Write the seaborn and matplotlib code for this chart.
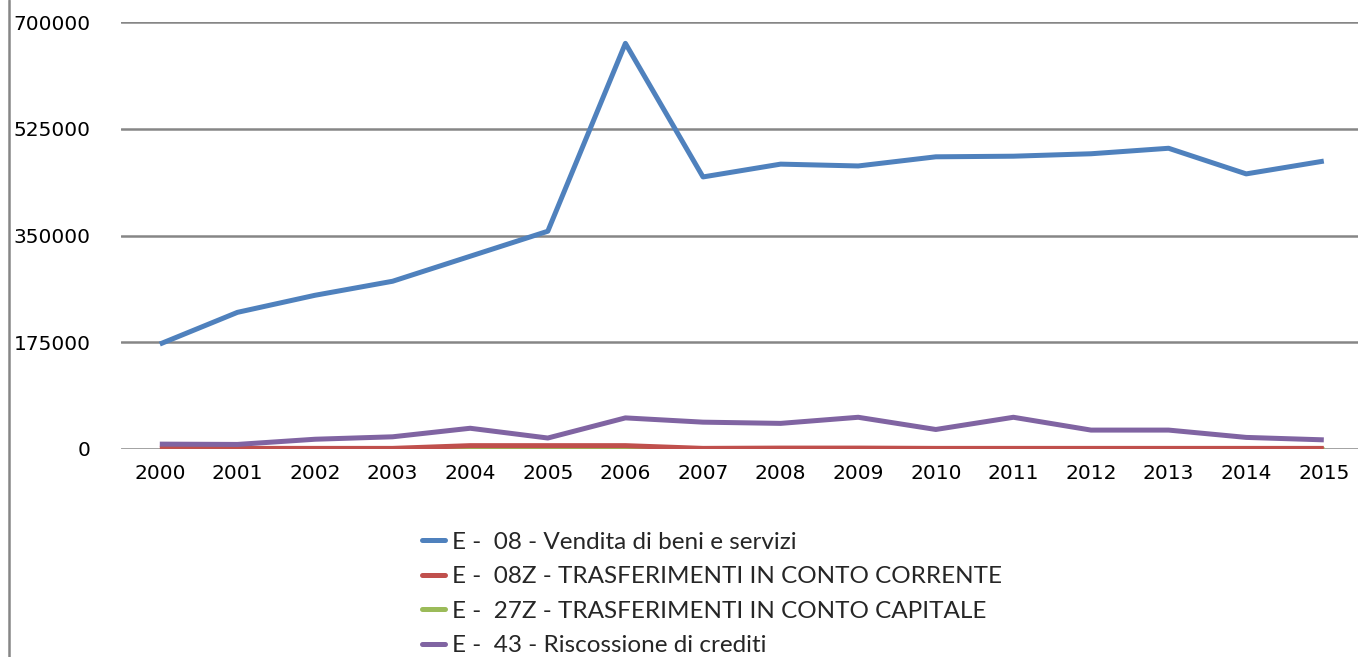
import numpy as np
import pandas as pd
import matplotlib.pyplot as plt
import seaborn as sns
from matplotlib.lines import Line2D

# --- data ---
years = list(range(2000, 2016))
vendita = [172000, 224000, 252000, 275000, 316000, 357000, 665000, 446000,
           467000, 464000, 479000, 480000, 484000, 493000, 451000, 472000]
trasf_corrente = [1000, 1000, 1000, 1000, 5500, 5500, 5500, 1000,
                  1500, 1500, 1000, 1000, 1000, 1000, 1000, 1000]
trasf_capitale = [0, 0, 0, 0, 0, 0, 0, 0, 0, 0, 0, 0, 0, 0, 0, 0]
riscossione = [8000, 7500, 16000, 20000, 34000, 18000, 51000, 44000,
               42000, 52000, 32000, 52000, 31000, 31000, 19000, 15000]

labels = ["E -  08 - Vendita di beni e servizi",
          "E -  08Z - TRASFERIMENTI IN CONTO CORRENTE",
          "E -  27Z - TRASFERIMENTI IN CONTO CAPITALE",
          "E -  43 - Riscossione di crediti"]
colors = ["#4F81BD", "#C0504D", "#9BBB59", "#8064A2"]

df = pd.DataFrame({"Anno": years, labels[0]: vendita, labels[1]: trasf_corrente,
                   labels[2]: trasf_capitale, labels[3]: riscossione})
df_long = df.melt(id_vars="Anno", var_name="Voce", value_name="Valore")

sns.set_theme(style="white")
plt.rcParams['font.family'] = ['DejaVu Sans']

W, H = 1358, 657
fig = plt.figure(figsize=(W / 100, H / 100), dpi=100)
ax = fig.add_axes([121 / W, (H - 449) / H, (W - 121) / W, (449 - 22) / H])

# draw in order so that blue/purple stay on top like the original
draw_order = [labels[2], labels[1], labels[0], labels[3]]
sns.lineplot(data=df_long, x="Anno", y="Valore", hue="Voce", hue_order=draw_order,
             palette=dict(zip(labels, colors)), linewidth=3.6, ax=ax, legend=False,
             zorder=3)
for ln in ax.lines:
    ln.set_solid_capstyle('butt')

ax.set_xlim(1999.5, 1999.5 + (W - 121) / 77.6)
ax.set_ylim(0, 700000)
ax.set_yticks([0, 175000, 350000, 525000, 700000])
ax.set_yticklabels(["0", "175000", "350000", "525000", "700000"])
ax.set_xticks(years)
ax.set_xticklabels([str(y) for y in years])
ax.tick_params(axis='both', length=0, labelsize=14.5, colors='black')
ax.tick_params(axis='y', pad=22)
ax.tick_params(axis='x', pad=11)
ax.set_xlabel("")
ax.set_ylabel("")
ax.grid(axis='y', color='#868686', linewidth=1.8)
ax.set_axisbelow(True)
for s in ax.spines.values():
    s.set_visible(False)

# outer border line on the left of the chart area
fig.add_artist(Line2D([9 / W, 9 / W], [0, 1], color='#868686', linewidth=1.8))

handles = [Line2D([0], [0], color=c, linewidth=3.6) for c in colors]
fig.legend(handles, labels, loc='upper left', bbox_to_anchor=(400 / W, 1 - 510 / H),
           frameon=False, handlelength=0.95, handletextpad=0.3, labelspacing=0.55,
           prop={'family': 'Lato', 'size': 17.5})

plt.savefig('out.png', dpi=100)
